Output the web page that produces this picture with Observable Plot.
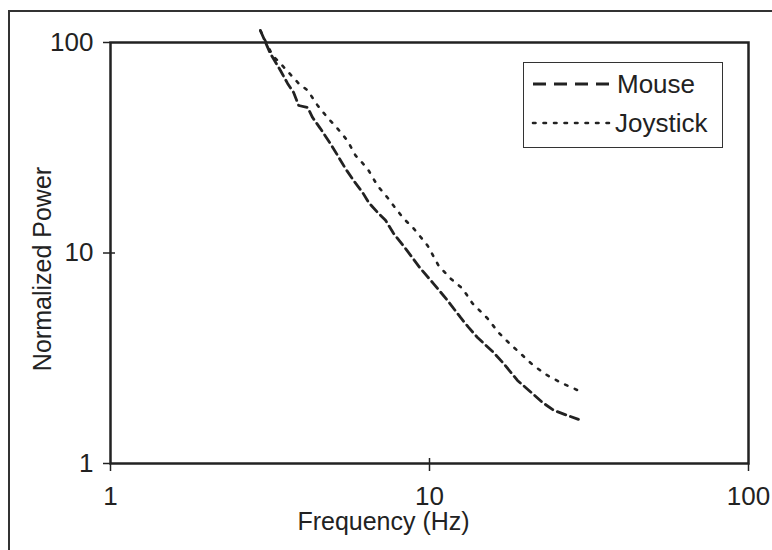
<!DOCTYPE html>
<html>
<head>
<meta charset="utf-8">
<script src="https://cdn.jsdelivr.net/npm/d3@7"></script>
<script src="https://cdn.jsdelivr.net/npm/@observablehq/plot@0.6"></script>
<style>
  html, body { margin: 0; padding: 0; background: #fff; }
  #wrap { position: relative; width: 772px; height: 550px; overflow: hidden; }
  #border { position: absolute; left: 8px; top: 10px; right: -10px; bottom: -10px; border-top: 2px solid #333; border-left: 2px solid #333; pointer-events: none; }
  #legend { position: absolute; left: 523px; top: 62px; width: 198px; height: 84px; border: 1.5px solid #333; background: #fff; }
  #legend svg { display: block; }
</style>
</head>
<body>
<div id="wrap">
  <div id="border"></div>
  <div id="chart"></div>
  <div id="legend"></div>
</div>
<script>
// Series names
const seriesNames = ["Mouse", "Joystick"];

// Mouse (dashed): frequency (Hz) and normalized power
const mouseFreq  = [2.95, 3.17, 3.41, 3.59, 3.75, 3.89, 4.15, 4.30, 4.55, 4.89, 5.15, 5.45, 5.78, 6.17, 6.44, 6.87, 7.28, 7.71, 8.41, 9.37, 10.29, 11.39, 12.51, 13.26, 14.14, 15.87, 17.06, 18.87, 21.03, 22.6, 24.5, 27.1, 29.3];
const mousePower = [114.0, 88.7, 73.6, 63.9, 57.9, 50.2, 49.1, 44.0, 39.0, 33.1, 29.1, 25.2, 22.1, 19.4, 17.4, 15.6, 14.3, 12.4, 10.5, 8.44, 7.16, 5.95, 4.94, 4.43, 3.97, 3.37, 2.99, 2.48, 2.15, 1.95, 1.79, 1.69, 1.62];

// Joystick (dotted): frequency (Hz) and normalized power
const joyFreq  = [2.95, 3.22, 3.41, 3.89, 4.15, 4.46, 4.79, 5.15, 5.53, 5.86, 6.39, 6.87, 7.39, 7.71, 8.29, 8.91, 9.86, 10.67, 11.64, 12.69, 13.64, 15.20, 16.46, 17.68, 19.29, 21.18, 23.44, 26.12, 29.3];
const joyPower = [114.0, 86.7, 79.5, 63.9, 59.2, 50.2, 44.0, 39.0, 34.2, 29.1, 25.2, 20.9, 18.3, 16.8, 14.6, 13.1, 10.85, 8.72, 7.56, 6.78, 5.76, 4.89, 4.19, 3.76, 3.33, 2.92, 2.62, 2.40, 2.22];

// Axis ticks
const xTicks = [1, 10, 100];
const yTicks = [1, 10, 100];
const xTitle = "Frequency (Hz)";
const yTitle = "Normalized Power";

const mouse = mouseFreq.map((f, i) => ({f, p: mousePower[i]}));
const joy = joyFreq.map((f, i) => ({f, p: joyPower[i]}));

const ink = "#222";
const font = "'Liberation Sans', Arial, Helvetica, sans-serif";

const chart = Plot.plot({
  width: 772,
  height: 550,
  marginLeft: 110,
  marginRight: 24,
  marginTop: 42,
  marginBottom: 87,
  style: {fontFamily: font, fontSize: "25px", color: ink, background: "transparent", overflow: "visible"},
  x: {type: "log", domain: [1, 100]},
  y: {type: "log", domain: [1, 100]},
  marks: [
    Plot.frame({stroke: ink, strokeWidth: 2.5}),
    Plot.axisX({ticks: xTicks, tickSize: 8, tickPadding: 15, tickFormat: d => String(d), label: null, fontSize: 26, strokeWidth: 1.5}),
    Plot.axisX({ticks: [10], tickSize: -5, text: null, label: null, strokeWidth: 1.5}),
    Plot.axisY({ticks: yTicks, tickSize: 7, tickPadding: 10, tickFormat: d => String(d), label: null, fontSize: 26, strokeWidth: 1.5}),
    Plot.axisY({ticks: [10], tickSize: -5, text: null, label: null, strokeWidth: 1.5}),
    Plot.text([xTitle], {frameAnchor: "bottom", textAnchor: "middle", lineAnchor: "middle", dx: -46, dy: 58, fontSize: 25, fill: ink}),
    Plot.text([yTitle], {frameAnchor: "left", textAnchor: "middle", lineAnchor: "middle", rotate: -90, dx: -68, dy: 16, fontSize: 25, fill: ink}),
    Plot.line(mouse, {x: "f", y: "p", stroke: ink, strokeWidth: 2.8, strokeDasharray: "9,5", curve: "linear", clip: false}),
    Plot.line(joy, {x: "f", y: "p", stroke: ink, strokeWidth: 2.6, strokeDasharray: "2.5,8", strokeLinecap: "round", curve: "linear", clip: false})
  ]
});
document.getElementById("chart").appendChild(chart);

// Legend (inside the plot area, top-right)
const lg = d3.select("#legend").append("svg").attr("width", 198).attr("height", 84);
const rows = [
  {name: seriesNames[0], dash: "13,8", width: 2.8, cap: "butt", y: 21, x2: 90, tx: 93, ty: 30},
  {name: seriesNames[1], dash: "2.5,8", width: 2.6, cap: "round", y: 60, x2: 86, tx: 91, ty: 69}
];
rows.forEach(r => {
  lg.append("line").attr("x1", 9).attr("x2", r.x2).attr("y1", r.y).attr("y2", r.y)
    .attr("stroke", ink).attr("stroke-width", r.width).attr("stroke-dasharray", r.dash).attr("stroke-linecap", r.cap);
  lg.append("text").attr("x", r.tx).attr("y", r.ty).text(r.name)
    .attr("font-family", font).attr("font-size", 26).attr("fill", ink);
});
</script>
</body>
</html>
